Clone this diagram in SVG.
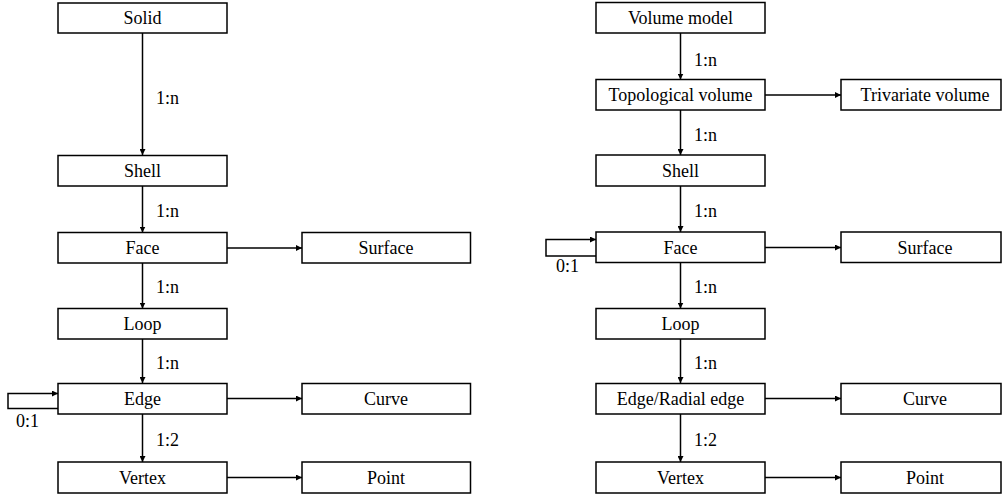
<svg xmlns="http://www.w3.org/2000/svg" width="1002" height="494" viewBox="0 0 1002 494" font-family="'Liberation Serif', serif" font-size="18">
<style>
rect.b{fill:#fff;stroke:#000;stroke-width:1.5}
text{font-family:'Liberation Serif', 'DejaVu Serif', serif;font-size:18px;fill:#000}
text.c{text-anchor:middle}
.ln{fill:none;stroke:#000;stroke-width:1.5}
</style>
<defs>
<marker id="ah" viewBox="0 0 10 10" refX="10" refY="5" markerWidth="4" markerHeight="4" orient="auto" markerUnits="strokeWidth">
<path d="M0,0L10,5L0,10z" fill="#000"/>
</marker>
</defs>
<g id="connectors">
<line class="ln" x1="142.5" y1="33" x2="142.5" y2="155" marker-end="url(#ah)"/>
<line class="ln" x1="142.5" y1="186" x2="142.5" y2="232.5" marker-end="url(#ah)"/>
<line class="ln" x1="142.5" y1="263" x2="142.5" y2="308.5" marker-end="url(#ah)"/>
<line class="ln" x1="142.5" y1="339" x2="142.5" y2="383" marker-end="url(#ah)"/>
<line class="ln" x1="142.5" y1="414" x2="142.5" y2="462" marker-end="url(#ah)"/>
<line class="ln" x1="227" y1="248" x2="302" y2="248" marker-end="url(#ah)"/>
<line class="ln" x1="227" y1="398.5" x2="302" y2="398.5" marker-end="url(#ah)"/>
<line class="ln" x1="227" y1="477.5" x2="302" y2="477.5" marker-end="url(#ah)"/>
<polyline class="ln" points="58,408.5 8,408.5 8,393.5 58,393.5" marker-end="url(#ah)"/>
<text x="156" y="104">1:n</text>
<text x="156" y="217">1:n</text>
<text x="156" y="293">1:n</text>
<text x="156" y="369">1:n</text>
<text x="156" y="446">1:2</text>
<text x="16" y="427">0:1</text>
<line class="ln" x1="680.5" y1="33" x2="680.5" y2="79.5" marker-end="url(#ah)"/>
<line class="ln" x1="680.5" y1="110" x2="680.5" y2="155" marker-end="url(#ah)"/>
<line class="ln" x1="680.5" y1="186" x2="680.5" y2="232" marker-end="url(#ah)"/>
<line class="ln" x1="680.5" y1="263" x2="680.5" y2="308.5" marker-end="url(#ah)"/>
<line class="ln" x1="680.5" y1="339" x2="680.5" y2="383" marker-end="url(#ah)"/>
<line class="ln" x1="680.5" y1="414" x2="680.5" y2="462" marker-end="url(#ah)"/>
<line class="ln" x1="765" y1="95" x2="841" y2="95" marker-end="url(#ah)"/>
<line class="ln" x1="765" y1="247.5" x2="841" y2="247.5" marker-end="url(#ah)"/>
<line class="ln" x1="765" y1="398.5" x2="841" y2="398.5" marker-end="url(#ah)"/>
<line class="ln" x1="765" y1="477.5" x2="841" y2="477.5" marker-end="url(#ah)"/>
<polyline class="ln" points="596,256 546,256 546,239.5 596,239.5" marker-end="url(#ah)"/>
<text x="694" y="66">1:n</text>
<text x="694" y="141">1:n</text>
<text x="694" y="217">1:n</text>
<text x="694" y="293">1:n</text>
<text x="694" y="369">1:n</text>
<text x="694" y="446">1:2</text>
<text x="556" y="272">0:1</text>
</g>
<g id="solid"><rect class="b" x="58" y="3" width="169" height="30"/><text class="c" x="142.5" y="24">Solid</text></g>
<g id="shell-l"><rect class="b" x="58" y="155.5" width="169" height="30.5"/><text class="c" x="142.5" y="177">Shell</text></g>
<g id="face-l"><rect class="b" x="58" y="232.5" width="169" height="30.5"/><text class="c" x="142.5" y="254">Face</text></g>
<g id="surface-l"><rect class="b" x="302" y="232.5" width="168.5" height="30.5"/><text class="c" x="386" y="254">Surface</text></g>
<g id="loop-l"><rect class="b" x="58" y="308.5" width="169" height="30.5"/><text class="c" x="142.5" y="330">Loop</text></g>
<g id="edge-l"><rect class="b" x="58" y="383.5" width="169" height="30.5"/><text class="c" x="142.5" y="405">Edge</text></g>
<g id="curve-l"><rect class="b" x="302" y="383.5" width="168.5" height="30.5"/><text class="c" x="386" y="405">Curve</text></g>
<g id="vertex-l"><rect class="b" x="58" y="462" width="169" height="31"/><text class="c" x="142.5" y="484">Vertex</text></g>
<g id="point-l"><rect class="b" x="302" y="462" width="168.5" height="31"/><text class="c" x="386" y="484">Point</text></g>
<g id="volume-model"><rect class="b" x="596" y="2.5" width="169" height="30.5"/><text class="c" x="680.5" y="24">Volume model</text></g>
<g id="topo-volume"><rect class="b" x="596" y="79.5" width="169" height="30.5"/><text class="c" x="680.5" y="101">Topological volume</text></g>
<g id="trivariate"><rect class="b" x="841" y="79.5" width="160" height="30.5"/><text class="c" x="925" y="101">Trivariate volume</text></g>
<g id="shell-r"><rect class="b" x="596" y="155" width="169" height="31"/><text class="c" x="680.5" y="177">Shell</text></g>
<g id="face-r"><rect class="b" x="596" y="232" width="169" height="30.5"/><text class="c" x="680.5" y="254">Face</text></g>
<g id="surface-r"><rect class="b" x="841" y="232" width="160" height="30.5"/><text class="c" x="925" y="254">Surface</text></g>
<g id="loop-r"><rect class="b" x="596" y="308.5" width="169" height="30.5"/><text class="c" x="680.5" y="330">Loop</text></g>
<g id="edge-r"><rect class="b" x="596" y="383.5" width="169" height="30.5"/><text class="c" x="680.5" y="405">Edge/Radial edge</text></g>
<g id="curve-r"><rect class="b" x="841" y="383.5" width="160" height="30.5"/><text class="c" x="925" y="405">Curve</text></g>
<g id="vertex-r"><rect class="b" x="596" y="462" width="169" height="31"/><text class="c" x="680.5" y="484">Vertex</text></g>
<g id="point-r"><rect class="b" x="841" y="462" width="160" height="31"/><text class="c" x="925" y="484">Point</text></g>
</svg>
